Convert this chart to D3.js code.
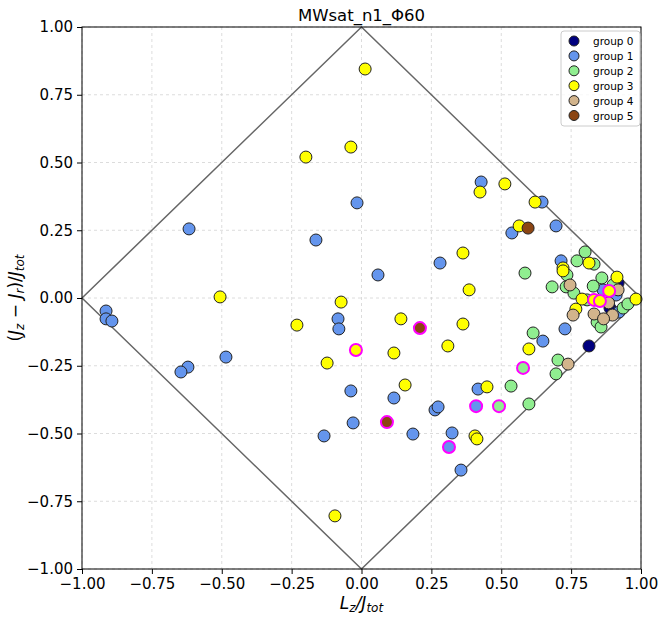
<!DOCTYPE html>
<html><head><meta charset="utf-8">
<script src="https://cdn.jsdelivr.net/npm/d3@7"></script>
<style>body{margin:0;background:#fff;} svg{display:block;font-family:"DejaVu Sans",sans-serif;}</style>
</head><body><div id="chart"></div>
<script>
const groupNames = ["group 0","group 1","group 2","group 3","group 4","group 5"];
const groupColors = ["#00007f","#6495ED","#90EE90","#FFFF00","#D2B48C","#8B4513"];
const ticks = [-1,-0.75,-0.5,-0.25,0,0.25,0.5,0.75,1];
const tickLabels = ["−1.00","−0.75","−0.50","−0.25","0.00","0.25","0.50","0.75","1.00"];
// [x, y, highlighted]
const group0 = [[0.918,0.055,0],[0.889,-0.037,0],[0.903,-0.055,0],[0.814,-0.177,0]];
const group1 = [[-0.914,-0.048,0],[-0.914,-0.077,0],[-0.893,-0.085,0],[-0.617,0.255,0],[-0.621,-0.255,0],[-0.646,-0.273,0],[-0.485,-0.218,0],[-0.163,0.214,0],[-0.016,0.351,0],[0.059,0.085,0],[-0.084,-0.077,0],[-0.081,-0.114,0],[-0.038,-0.343,0],[-0.030,-0.461,0],[-0.134,-0.509,0],[0.116,-0.369,0],[0.184,-0.502,0],[0.263,-0.413,0],[0.274,-0.402,0],[0.324,-0.498,0],[0.417,-0.336,0],[0.356,-0.635,0],[0.281,0.129,0],[0.428,0.428,0],[0.646,0.354,0],[0.538,0.240,0],[0.696,0.266,0],[0.714,0.137,0],[0.728,-0.114,0],[0.649,-0.159,0],[0.864,0.030,0],[0.911,0.011,0],[0.921,-0.052,0],[0.410,-0.399,1],[0.313,-0.550,1]];
const group2 = [[0.585,0.092,0],[0.800,0.170,0],[0.771,0.137,0],[0.832,0.125,0],[0.735,0.085,0],[0.860,0.074,0],[0.682,0.041,0],[0.732,0.041,0],[0.829,0.044,0],[0.900,0.048,0],[0.760,0.018,0],[0.807,-0.007,0],[0.936,-0.037,0],[0.953,-0.022,0],[0.843,-0.089,0],[0.857,-0.107,0],[0.614,-0.129,0],[0.535,-0.325,0],[0.599,-0.391,0],[0.703,-0.229,0],[0.696,-0.280,0],[0.578,-0.258,1],[0.492,-0.399,1]];
const group3 = [[0.013,0.845,0],[-0.038,0.557,0],[-0.199,0.520,0],[0.424,0.391,0],[0.513,0.421,0],[0.621,0.354,0],[0.564,0.266,0],[0.363,0.166,0],[0.385,0.030,0],[-0.506,0.004,0],[-0.231,-0.100,0],[-0.073,-0.015,0],[0.141,-0.077,0],[-0.123,-0.240,0],[0.116,-0.203,0],[0.363,-0.096,0],[0.309,-0.177,0],[0.156,-0.321,0],[0.406,-0.509,0],[0.413,-0.520,0],[0.449,-0.328,0],[0.599,-0.188,0],[-0.095,-0.804,0],[0.721,0.111,0],[0.721,0.100,0],[0.814,0.129,0],[0.914,0.077,0],[0.789,-0.004,0],[0.767,-0.041,0],[0.982,-0.004,0],[-0.020,-0.192,1],[0.886,0.026,1],[0.832,-0.007,1],[0.853,-0.011,1]];
const group4 = [[0.746,0.048,0],[0.918,0.030,0],[0.884,-0.018,0],[0.757,-0.063,0],[0.832,-0.059,0],[0.898,-0.063,0],[0.866,-0.077,0],[0.739,-0.244,0]];
const group5 = [[0.596,0.258,0],[0.209,-0.111,1],[0.091,-0.458,1]];
const groups = [group0,group1,group2,group3,group4,group5];
const boundary = [[-1,0],[0,1],[1,0],[0,-1],[-1,0]];

const W=664,H=621, L=82,R=641,T=27,B=569;
const svg=d3.select("#chart").append("svg").attr("width",W).attr("height",H);
const x=d3.scaleLinear().domain([-1,1]).range([L,R]);
const y=d3.scaleLinear().domain([-1,1]).range([B,T]);

// grid
const g=svg.append("g");
g.selectAll("line.gx").data(ticks).join("line").attr("x1",d=>x(d)).attr("x2",d=>x(d)).attr("y1",T).attr("y2",B)
 .attr("stroke","#d3d3d3").attr("stroke-width",0.8).attr("stroke-dasharray","3,3");
g.selectAll("line.gy").data(ticks).join("line").attr("y1",d=>y(d)).attr("y2",d=>y(d)).attr("x1",L).attr("x2",R)
 .attr("stroke","#d3d3d3").attr("stroke-width",0.8).attr("stroke-dasharray","3,3");

// boundary
svg.append("path").attr("d",d3.line().x(d=>x(d[0])).y(d=>y(d[1]))(boundary)).attr("fill","none").attr("stroke","#666").attr("stroke-width",1.5);

// points
const all=[];
groups.forEach((arr,gi)=>arr.forEach(p=>all.push({x:p[0],y:p[1],h:p[2],g:gi})));
const normal=all.filter(d=>!d.h), hi=all.filter(d=>d.h);
svg.append("g").selectAll("circle").data(normal).join("circle")
 .attr("cx",d=>x(d.x)).attr("cy",d=>y(d.y)).attr("r",6)
 .attr("fill",d=>groupColors[d.g]).attr("stroke","#222").attr("stroke-width",1);
svg.append("g").selectAll("circle").data(hi).join("circle")
 .attr("cx",d=>x(d.x)).attr("cy",d=>y(d.y)).attr("r",6)
 .attr("fill",d=>groupColors[d.g]).attr("stroke","#FF00FF").attr("stroke-width",2);

// axes
const ax=d3.axisBottom(x).tickValues(ticks).tickFormat((d,i)=>tickLabels[i]).tickSize(5).tickPadding(4);
const ay=d3.axisLeft(y).tickValues(ticks).tickFormat((d,i)=>tickLabels[i]).tickSize(5).tickPadding(4);
const gx=svg.append("g").attr("transform",`translate(0,${B})`).call(ax);
const gy=svg.append("g").attr("transform",`translate(${L},0)`).call(ay);
[gx,gy].forEach(a=>{a.select(".domain").remove();a.selectAll("text").attr("font-size",15).attr("fill","#000").attr("font-family","DejaVu Sans");a.selectAll("line").attr("stroke","#000");});
svg.append("rect").attr("x",L).attr("y",T).attr("width",R-L).attr("height",B-T).attr("fill","none").attr("stroke","#000").attr("stroke-width",1);

// title
svg.append("text").attr("x",(L+R)/2).attr("y",21).attr("text-anchor","middle").attr("font-size",16.5).text("MWsat_n1_Φ60");

// x label
const xl=svg.append("text").attr("x",(L+R)/2).attr("y",609).attr("text-anchor","middle").attr("font-size",17).attr("font-family","DejaVu Sans").attr("font-style","italic");
xl.append("tspan").text("L");
xl.append("tspan").attr("font-size",12).attr("dy",3).text("z");
xl.append("tspan").attr("dy",-3).text("/J");
xl.append("tspan").attr("font-size",12).attr("dy",3).text("tot");

// y label
const yl=svg.append("text").attr("transform",`translate(21,${(T+B)/2}) rotate(-90)`).attr("text-anchor","middle").attr("font-size",17).attr("font-style","italic");
yl.append("tspan").attr("font-style","normal").text("(");
yl.append("tspan").text("J");
yl.append("tspan").attr("font-size",12).attr("dy",3).text("z");
yl.append("tspan").attr("dy",-3).attr("font-style","normal").text(" − ");
yl.append("tspan").text("J");
yl.append("tspan").attr("font-size",12).attr("dy",3).text("r");
yl.append("tspan").attr("dy",-3).attr("font-style","normal").text(")/");
yl.append("tspan").text("J");
yl.append("tspan").attr("font-size",12).attr("dy",3).text("tot");

// legend
const lg=svg.append("g").attr("transform","translate(561,31)");
lg.append("rect").attr("width",79).attr("height",95).attr("rx",3).attr("fill","#fff").attr("fill-opacity",0.8).attr("stroke","#ccc");
groupNames.forEach((n,i)=>{
  const row=lg.append("g").attr("transform",`translate(0,${10+i*14.9})`);
  row.append("circle").attr("cx",13).attr("cy",0).attr("r",5).attr("fill",groupColors[i]).attr("stroke","#222").attr("stroke-width",1);
  row.append("text").attr("x",32).attr("y",4).attr("font-size",10.5).text(n);
});
</script></body></html>
